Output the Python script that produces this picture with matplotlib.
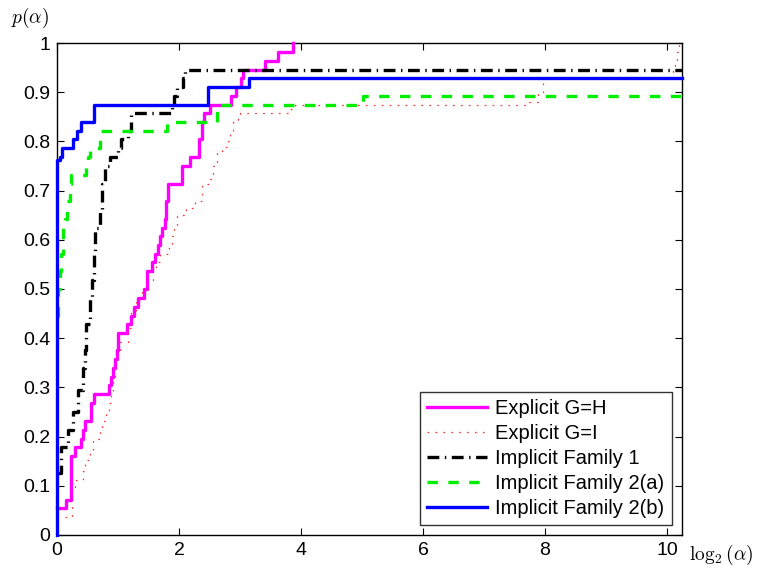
import matplotlib
matplotlib.use("Agg")
import matplotlib.pyplot as plt

plt.rcParams['font.family'] = ['Liberation Sans', 'DejaVu Sans']
plt.rcParams['lines.scale_dashes'] = False
plt.rcParams['mathtext.fontset'] = 'cm'

X_MAX = 10.24

# Explicit G=H (magenta, solid)
gh_x = [0.0, 0.155, 0.236, 0.30, 0.40, 0.43, 0.46, 0.56, 0.60, 0.86, 0.89, 0.92, 0.95, 0.98,
        1.0, 1.15, 1.22, 1.27, 1.32, 1.42, 1.47, 1.55, 1.60, 1.65, 1.69, 1.72, 1.77, 1.79, 1.82,
        2.05, 2.18, 2.33, 2.37, 2.41, 2.50, 2.86, 2.93, 3.02, 3.05, 3.41, 3.62, 3.87]
gh_y = [0.054, 0.071, 0.161, 0.179, 0.196, 0.214, 0.232, 0.268, 0.286, 0.304, 0.321, 0.339, 0.357, 0.375,
        0.411, 0.429, 0.446, 0.464, 0.482, 0.500, 0.536, 0.554, 0.571, 0.589, 0.607, 0.625, 0.643, 0.679, 0.714,
        0.750, 0.768, 0.804, 0.839, 0.857, 0.875, 0.893, 0.911, 0.929, 0.946, 0.964, 0.982, 1.0]

# Explicit G=I (red, dotted)
gi_x = [0.0, 0.24, 0.29, 0.43, 0.46, 0.54, 0.59, 0.70, 0.73, 0.81, 0.86, 0.89, 0.92, 0.95, 0.97,
        1.03, 1.17, 1.22, 1.30, 1.39, 1.47, 1.58, 1.63, 1.69, 1.84, 1.88, 1.91, 1.96, 2.12, 2.26,
        2.37, 2.50, 2.56, 2.62, 2.70, 2.81, 2.83, 2.89, 2.97, 3.00, 3.82, 3.90, 7.74, 7.89, 7.96,
        10.10, 10.13, 10.16, 10.20]
gi_y = [0.036, 0.098, 0.111, 0.130, 0.152, 0.170, 0.196, 0.214, 0.232, 0.250, 0.268, 0.286, 0.315, 0.342, 0.370,
        0.393, 0.420, 0.455, 0.482, 0.500, 0.518, 0.545, 0.554, 0.571, 0.589, 0.607, 0.625, 0.650, 0.664, 0.679,
        0.714, 0.723, 0.750, 0.777, 0.789, 0.800, 0.821, 0.839, 0.846, 0.857, 0.866, 0.875, 0.880, 0.899, 0.929,
        0.946, 0.964, 0.982, 1.0]

# Implicit Family 1 (black, dash-dot)
f1_x = [0.0, 0.07, 0.18, 0.27, 0.35, 0.43, 0.46, 0.48, 0.54, 0.57, 0.60, 0.63, 0.70, 0.73, 0.79,
        0.87, 1.00, 1.05, 1.17, 1.22, 1.88, 1.91, 1.96, 2.07, 2.10, X_MAX]
f1_y = [0.125, 0.179, 0.214, 0.250, 0.295, 0.339, 0.375, 0.429, 0.482, 0.518, 0.571, 0.625, 0.661, 0.714, 0.750,
        0.768, 0.786, 0.804, 0.821, 0.857, 0.875, 0.893, 0.911, 0.929, 0.946, 0.946]

# Implicit Family 2(a) (green, dashed)
f2a_x = [0.0, 0.02, 0.05, 0.07, 0.10, 0.13, 0.17, 0.21, 0.23, 0.47, 0.50, 0.54, 0.70, 1.80, 2.62, 5.02, X_MAX]
f2a_y = [0.446, 0.500, 0.536, 0.571, 0.625, 0.643, 0.679, 0.714, 0.732, 0.750, 0.768, 0.786, 0.821, 0.839, 0.875,
         0.893, 0.893]

# Implicit Family 2(b) (blue, solid)
f2b_x = [0.0, 0.0, 0.05, 0.09, 0.27, 0.32, 0.40, 0.61, 2.47, 3.14, X_MAX]
f2b_y = [0.0, 0.762, 0.768, 0.786, 0.804, 0.821, 0.839, 0.875, 0.911, 0.929, 0.929]

labels = ['Explicit G=H', 'Explicit G=I', 'Implicit Family 1', 'Implicit Family 2(a)', 'Implicit Family 2(b)']

fig = plt.figure(figsize=(7.6, 5.69), dpi=100)
ax = fig.add_axes([0.075, 0.0598, 0.822, 0.8646])

ax.plot(gh_x, gh_y, drawstyle='steps-post', color='#ff00ff', lw=2.4, label=labels[0], clip_on=False, zorder=3)
ax.plot(gi_x, gi_y, drawstyle='steps-post', color='#ff3030', lw=0.9, dashes=(1.2, 4.5), label=labels[1],
        clip_on=False, zorder=2)
ax.plot(f1_x, f1_y, drawstyle='steps-post', color='black', lw=2.4, dashes=(8.5, 4.0, 1.0, 4.0), label=labels[2],
        clip_on=False, zorder=3)
ax.plot(f2a_x, f2a_y, drawstyle='steps-post', color='#00ee00', lw=2.4, dashes=(7.5, 7.5), label=labels[3],
        clip_on=False, zorder=3)
ax.plot(f2b_x, f2b_y, drawstyle='steps-post', color='#0000ff', lw=2.4, label=labels[4], clip_on=False, zorder=4)

ax.set_xlim(0, X_MAX)
ax.set_ylim(0, 1)
ax.set_xticks([0, 2, 4, 6, 8, 10])
ax.set_yticks([i / 10 for i in range(11)])
ax.set_yticklabels(['0', '0.1', '0.2', '0.3', '0.4', '0.5', '0.6', '0.7', '0.8', '0.9', '1'])
ax.tick_params(direction='in', top=True, right=True, labelsize=14, length=5, width=0.8, pad=5)
for s in ax.spines.values():
    s.set_linewidth(1.0)

fig.text(0.014, 0.968, r'$p(\alpha)$', fontsize=14, ha='left', va='center')
fig.text(0.907, 0.024, r'$\log_2(\alpha)$', fontsize=14, ha='left', va='center')

leg = ax.legend(loc='lower right', fontsize=14.5, frameon=True, fancybox=False, edgecolor='black',
                handlelength=3.0, borderaxespad=0.5, labelspacing=0.3, handletextpad=0.4, borderpad=0.35)
leg.get_frame().set_linewidth(1.0)

fig.savefig('out.png', dpi=100)
